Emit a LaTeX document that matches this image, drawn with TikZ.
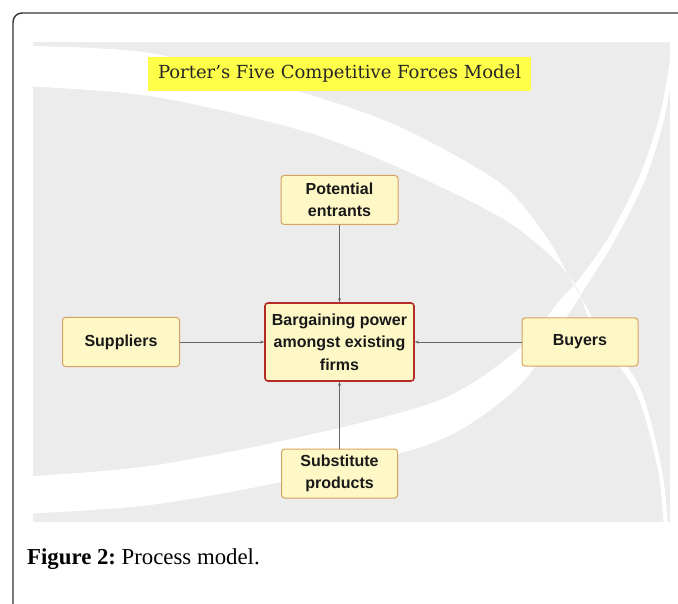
\documentclass[tikz,border=0pt]{standalone}
\usepackage{fontspec}
\setmainfont{Liberation Serif}
\newfontfamily\boxfont{Liberation Sans}
\newfontfamily\titlefont{DejaVu Serif}
\usetikzlibrary{arrows.meta}
\definecolor{bggray}{HTML}{ECECEC}
\definecolor{boxfill}{HTML}{FDF8C6}
\definecolor{boxedge}{HTML}{D6A262}
\definecolor{redge}{HTML}{B52B27}
\definecolor{titleyellow}{HTML}{FFFF4A}
\definecolor{framec}{HTML}{333333}
\tikzset{
  forcebox/.style={draw=boxedge, fill=boxfill, line width=1pt, rounded corners=3pt,
    minimum width=117pt, minimum height=49pt, inner sep=0pt, align=center,
    font=\boxfont\bfseries\fontsize{16}{22.5}\selectfont, text=black!90},
  centerbox/.style={forcebox, draw=redge, line width=1.6pt, minimum width=149pt, minimum height=78pt},
  conn/.style={draw=black!60, line width=0.6pt, -{Stealth[length=4pt,width=3pt]}},
}
\begin{document}
\begin{tikzpicture}[x=1pt,y=-1pt]
\useasboundingbox (0,0) rectangle (678,604);
\fill[white] (0,0) rectangle (678,604);
\fill[bggray] (33,42) rectangle (670,522);
\begin{scope}
\clip (33,42) rectangle (670,522);
\fill[white, even odd rule]
  plot[smooth] coordinates {(20,46) (150,53) (300,92) (400,127) (500,183) (545,235) (570,278) (600,330) (640,388) (662,470) (668,530)}
  -- plot[smooth] coordinates {(664,530) (658,470) (636,392) (596,336) (577,288) (550,255) (500,217) (400,168) (300,130) (150,96) (20,86)}
  -- cycle
  plot[smooth] coordinates {(20,514) (150,505) (300,478) (440,440) (520,385) (566,318) (585,288) (615,240) (645,180) (664,120) (674,60) (675,40)}
  -- plot[smooth] coordinates {(671,40) (670,60) (660,115) (640,175) (610,235) (580,278) (560,300) (520,348) (440,400) (300,437) (150,466) (20,477)}
  -- cycle;
\end{scope}
\begin{scope}
\clip (0,0) rectangle (678,604);
\draw[framec, line width=1.4pt, rounded corners=9pt] (13,650) -- (13,13) -- (720,13);
\end{scope}
\node[fill=titleyellow, minimum width=383pt, minimum height=34pt, inner sep=0pt,
  font=\titlefont\fontsize{18}{20}\selectfont, text=black!85] (title) at (339.5,74) {Porter’s Five Competitive Forces Model};
\node[centerbox] (center) at (339.5,342) {Bargaining power\\amongst existing\\firms};
\node[forcebox] (entrants) at (339.5,200) {Potential\\entrants};
\node[forcebox] (suppliers) at (121,342) {Suppliers};
\node[forcebox, minimum width=116pt, minimum height=48pt] (buyers) at (580,342) {Buyers};
\node[forcebox, minimum width=116pt] (subst) at (339.5,473.5) {Substitute\\products};
\draw[conn] (entrants) -- (center);
\draw[conn] (suppliers) -- (center);
\draw[conn] (buyers) -- (center);
\draw[conn] (subst) -- (center);
\node[anchor=base west, inner sep=0pt, font=\fontsize{22.8}{24}\selectfont] (cap) at (27,564) {\textbf{Figure 2:}\kern-2pt{} Process model.};
\end{tikzpicture}
\end{document}
